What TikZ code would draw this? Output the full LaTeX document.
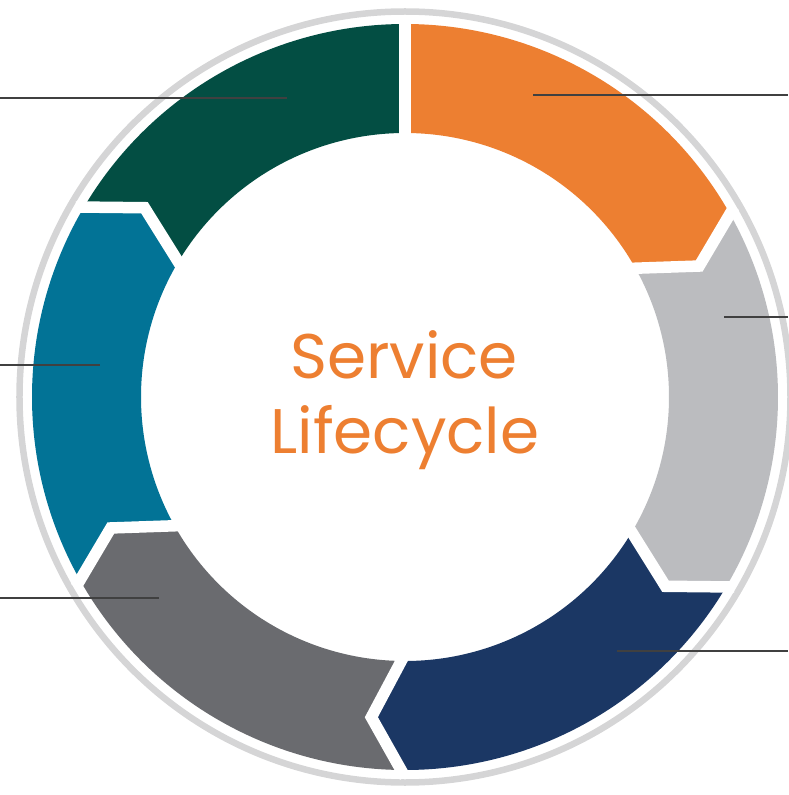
\documentclass[tikz,border=0pt]{standalone}
\usepackage{fontspec}
\setmainfont{Poppins}
\usepackage{xcolor}
\definecolor{cycle-green}{HTML}{034E43}
\definecolor{cycle-orange}{HTML}{ED7F31}
\definecolor{cycle-silver}{HTML}{BBBCBF}
\definecolor{cycle-navy}{HTML}{1B3764}
\definecolor{cycle-slate}{HTML}{6A6B6F}
\definecolor{cycle-teal}{HTML}{027396}
\definecolor{ring-gray}{HTML}{D5D5D6}
\definecolor{tick-gray}{HTML}{404040}

\tikzset{
  seam/.style={draw=white, line width=11.5pt, line join=miter},
  tickline/.style={draw=tick-gray, line width=2pt},
  title/.style={anchor=base, text=cycle-orange, font=\fontsize{63}{75}\selectfont},
}

\begin{document}
\begin{tikzpicture}[x=1pt, y=1pt]
    \useasboundingbox (-405,-398) rectangle (383,397);
    \draw[ring-gray, line width=6.5pt] (0,0) circle[radius=385.5];

    % six arrow segments, running clockwise
    \fill[cycle-green] (150:373) arc[start angle=150, end angle=90, radius=373]
      -- (90:264) arc[start angle=90, end angle=150, radius=264] -- (144:322) -- cycle;
    \fill[cycle-orange] (90:373) arc[start angle=90, end angle=30, radius=373]
      -- (24:322) -- (30:264) arc[start angle=30, end angle=90, radius=264] -- cycle;
    \fill[cycle-silver] (30:373) arc[start angle=30, end angle=-30, radius=373]
      -- (-36:322) -- (-30:264) arc[start angle=-30, end angle=30, radius=264] -- (24:322) -- cycle;
    \fill[cycle-navy] (-30:373) arc[start angle=-30, end angle=-90, radius=373]
      -- (-96:322) -- (-90:264) arc[start angle=-90, end angle=-30, radius=264] -- (-36:322) -- cycle;
    \fill[cycle-slate] (-90:373) arc[start angle=-90, end angle=-150, radius=373]
      -- (-156:322) -- (-150:264) arc[start angle=-150, end angle=-90, radius=264] -- (-96:322) -- cycle;
    \fill[cycle-teal] (210:373) arc[start angle=210, end angle=150, radius=373]
      -- (144:322) -- (150:264) arc[start angle=150, end angle=210, radius=264] -- (204:322) -- cycle;

    % white seams between segments
    \draw[seam] (90:380) -- (90:257);
    \draw[seam] (30:380) -- (24:322) -- (30:257);
    \draw[seam] (-30:380) -- (-36:322) -- (-30:257);
    \draw[seam] (-90:380) -- (-96:322) -- (-90:257);
    \draw[seam] (-150:380) -- (-156:322) -- (-150:257);
    \draw[seam] (150:380) -- (144:322) -- (150:257);

    \node[title] (title-top) at (-1,19) {Service};
    \node[title] (title-bottom) at (0,-56) {Lifecycle};

    % callout ticks
    \coordinate (green-pin) at (-118,299);   \coordinate (green-edge) at (-405,299);
    \coordinate (orange-pin) at (128,302);   \coordinate (orange-edge) at (383,302);
    \coordinate (silver-pin) at (319,80);    \coordinate (silver-edge) at (383,80);
    \coordinate (navy-pin) at (212,-254);    \coordinate (navy-edge) at (383,-254);
    \coordinate (slate-pin) at (-246,-201);  \coordinate (slate-edge) at (-405,-201);
    \coordinate (teal-pin) at (-305,32);     \coordinate (teal-edge) at (-405,32);
    \draw[tickline] (green-pin) -- (green-edge);
    \draw[tickline] (orange-pin) -- (orange-edge);
    \draw[tickline] (silver-pin) -- (silver-edge);
    \draw[tickline] (navy-pin) -- (navy-edge);
    \draw[tickline] (slate-pin) -- (slate-edge);
    \draw[tickline] (teal-pin) -- (teal-edge);
\end{tikzpicture}
\end{document}
